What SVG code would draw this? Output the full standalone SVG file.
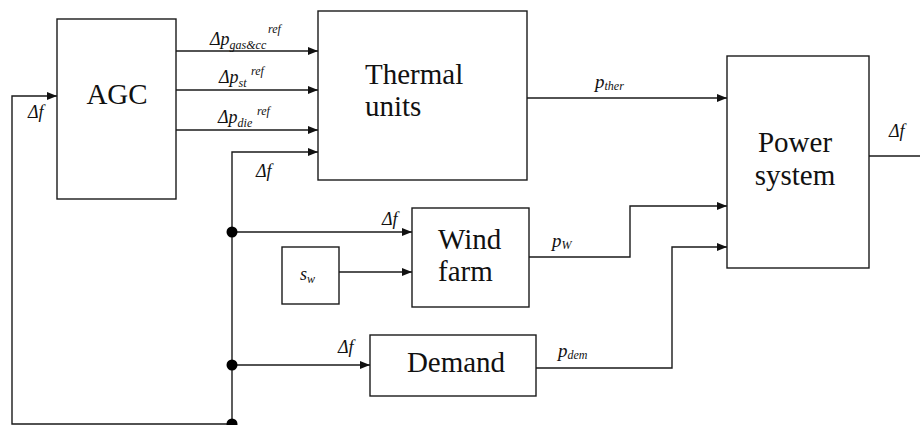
<svg xmlns="http://www.w3.org/2000/svg" width="920" height="425" viewBox="0 0 920 425">
<style>
.box{fill:#fff;stroke:#1a1a1a;stroke-width:1.4}
.ln{fill:none;stroke:#1a1a1a;stroke-width:1.4}
.big{font-family:"Liberation Serif",serif;font-size:29px;fill:#111}
.lbl{font-family:"Liberation Serif",serif;font-style:italic;font-size:18px;fill:#111}
.sub{font-size:12px}
.sup{font-size:12px}
</style>
<defs>
<marker id="ah" viewBox="0 0 10 8" refX="10" refY="4" markerWidth="10" markerHeight="8" markerUnits="userSpaceOnUse" orient="auto">
<path d="M0,0 L10,4 L0,8 Z" fill="#111"/>
</marker>
</defs>
<g id="connectors">
<path class="ln" d="M176,51 H318" marker-end="url(#ah)"/>
<path class="ln" d="M176,90 H318" marker-end="url(#ah)"/>
<path class="ln" d="M176,130 H318" marker-end="url(#ah)"/>
<path class="ln" d="M232,424 V152 H318" marker-end="url(#ah)"/>
<path class="ln" d="M232,232 H412" marker-end="url(#ah)"/>
<path class="ln" d="M339,272 H412" marker-end="url(#ah)"/>
<path class="ln" d="M232,365 H370" marker-end="url(#ah)"/>
<path class="ln" d="M232,424 H12 V96 H57" marker-end="url(#ah)"/>
<path class="ln" d="M527,98 H727" marker-end="url(#ah)"/>
<path class="ln" d="M529,257 H630 V206 H727" marker-end="url(#ah)"/>
<path class="ln" d="M536,368 H672 V247 H727" marker-end="url(#ah)"/>
<path class="ln" d="M869,156 H920"/>
<circle cx="232" cy="232" r="5.5" fill="#000"/>
<circle cx="232" cy="365" r="5.5" fill="#000"/>
<circle cx="232" cy="424" r="5.5" fill="#000"/>
<text class="lbl" x="210" y="45">Δp<tspan class="sub" dy="4">gas&amp;cc</tspan><tspan class="sup" x="268" dy="-16">ref</tspan></text>
<text class="lbl" x="219" y="83">Δp<tspan class="sub" dy="4">st</tspan><tspan class="sup" x="251" dy="-12">ref</tspan></text>
<text class="lbl" x="218" y="123">Δp<tspan class="sub" dy="4">die</tspan><tspan class="sup" x="257" dy="-12">ref</tspan></text>
<text class="lbl" x="28" y="118">Δf</text>
<text class="lbl" x="256" y="177">Δf</text>
<text class="lbl" x="382" y="225">Δf</text>
<text class="lbl" x="338" y="353">Δf</text>
<text class="lbl" x="889" y="137">Δf</text>
<text class="lbl" x="595" y="88" style="font-size:19px">p<tspan class="sub" dy="2">ther</tspan></text>
<text class="lbl" x="552" y="247" style="font-size:19px">p<tspan class="sub" dy="2">W</tspan></text>
<text class="lbl" x="558" y="357" style="font-size:19px">p<tspan class="sub" dy="2">dem</tspan></text>
</g>
<g id="agc">
<rect class="box" x="57" y="19" width="119" height="180"/>
<text class="big" x="117" y="104" text-anchor="middle">AGC</text>
</g>
<g id="thermal">
<rect class="box" x="318" y="11" width="209" height="169"/>
<text class="big" x="365" y="84">Thermal</text>
<text class="big" x="365" y="116">units</text>
</g>
<g id="power">
<rect class="box" x="727" y="56" width="142" height="212"/>
<text class="big" x="795" y="152" text-anchor="middle">Power</text>
<text class="big" x="795" y="185" text-anchor="middle">system</text>
</g>
<g id="wind">
<rect class="box" x="412" y="208" width="117" height="99"/>
<text class="big" x="438" y="249">Wind</text>
<text class="big" x="438" y="281">farm</text>
</g>
<g id="sw">
<rect class="box" x="282" y="247" width="57" height="57"/>
<text class="lbl" x="300" y="280">s<tspan class="sub" dy="3">w</tspan></text>
</g>
<g id="demand">
<rect class="box" x="370" y="335" width="166" height="61"/>
<text class="big" x="456" y="372" text-anchor="middle">Demand</text>
</g>
</svg>
